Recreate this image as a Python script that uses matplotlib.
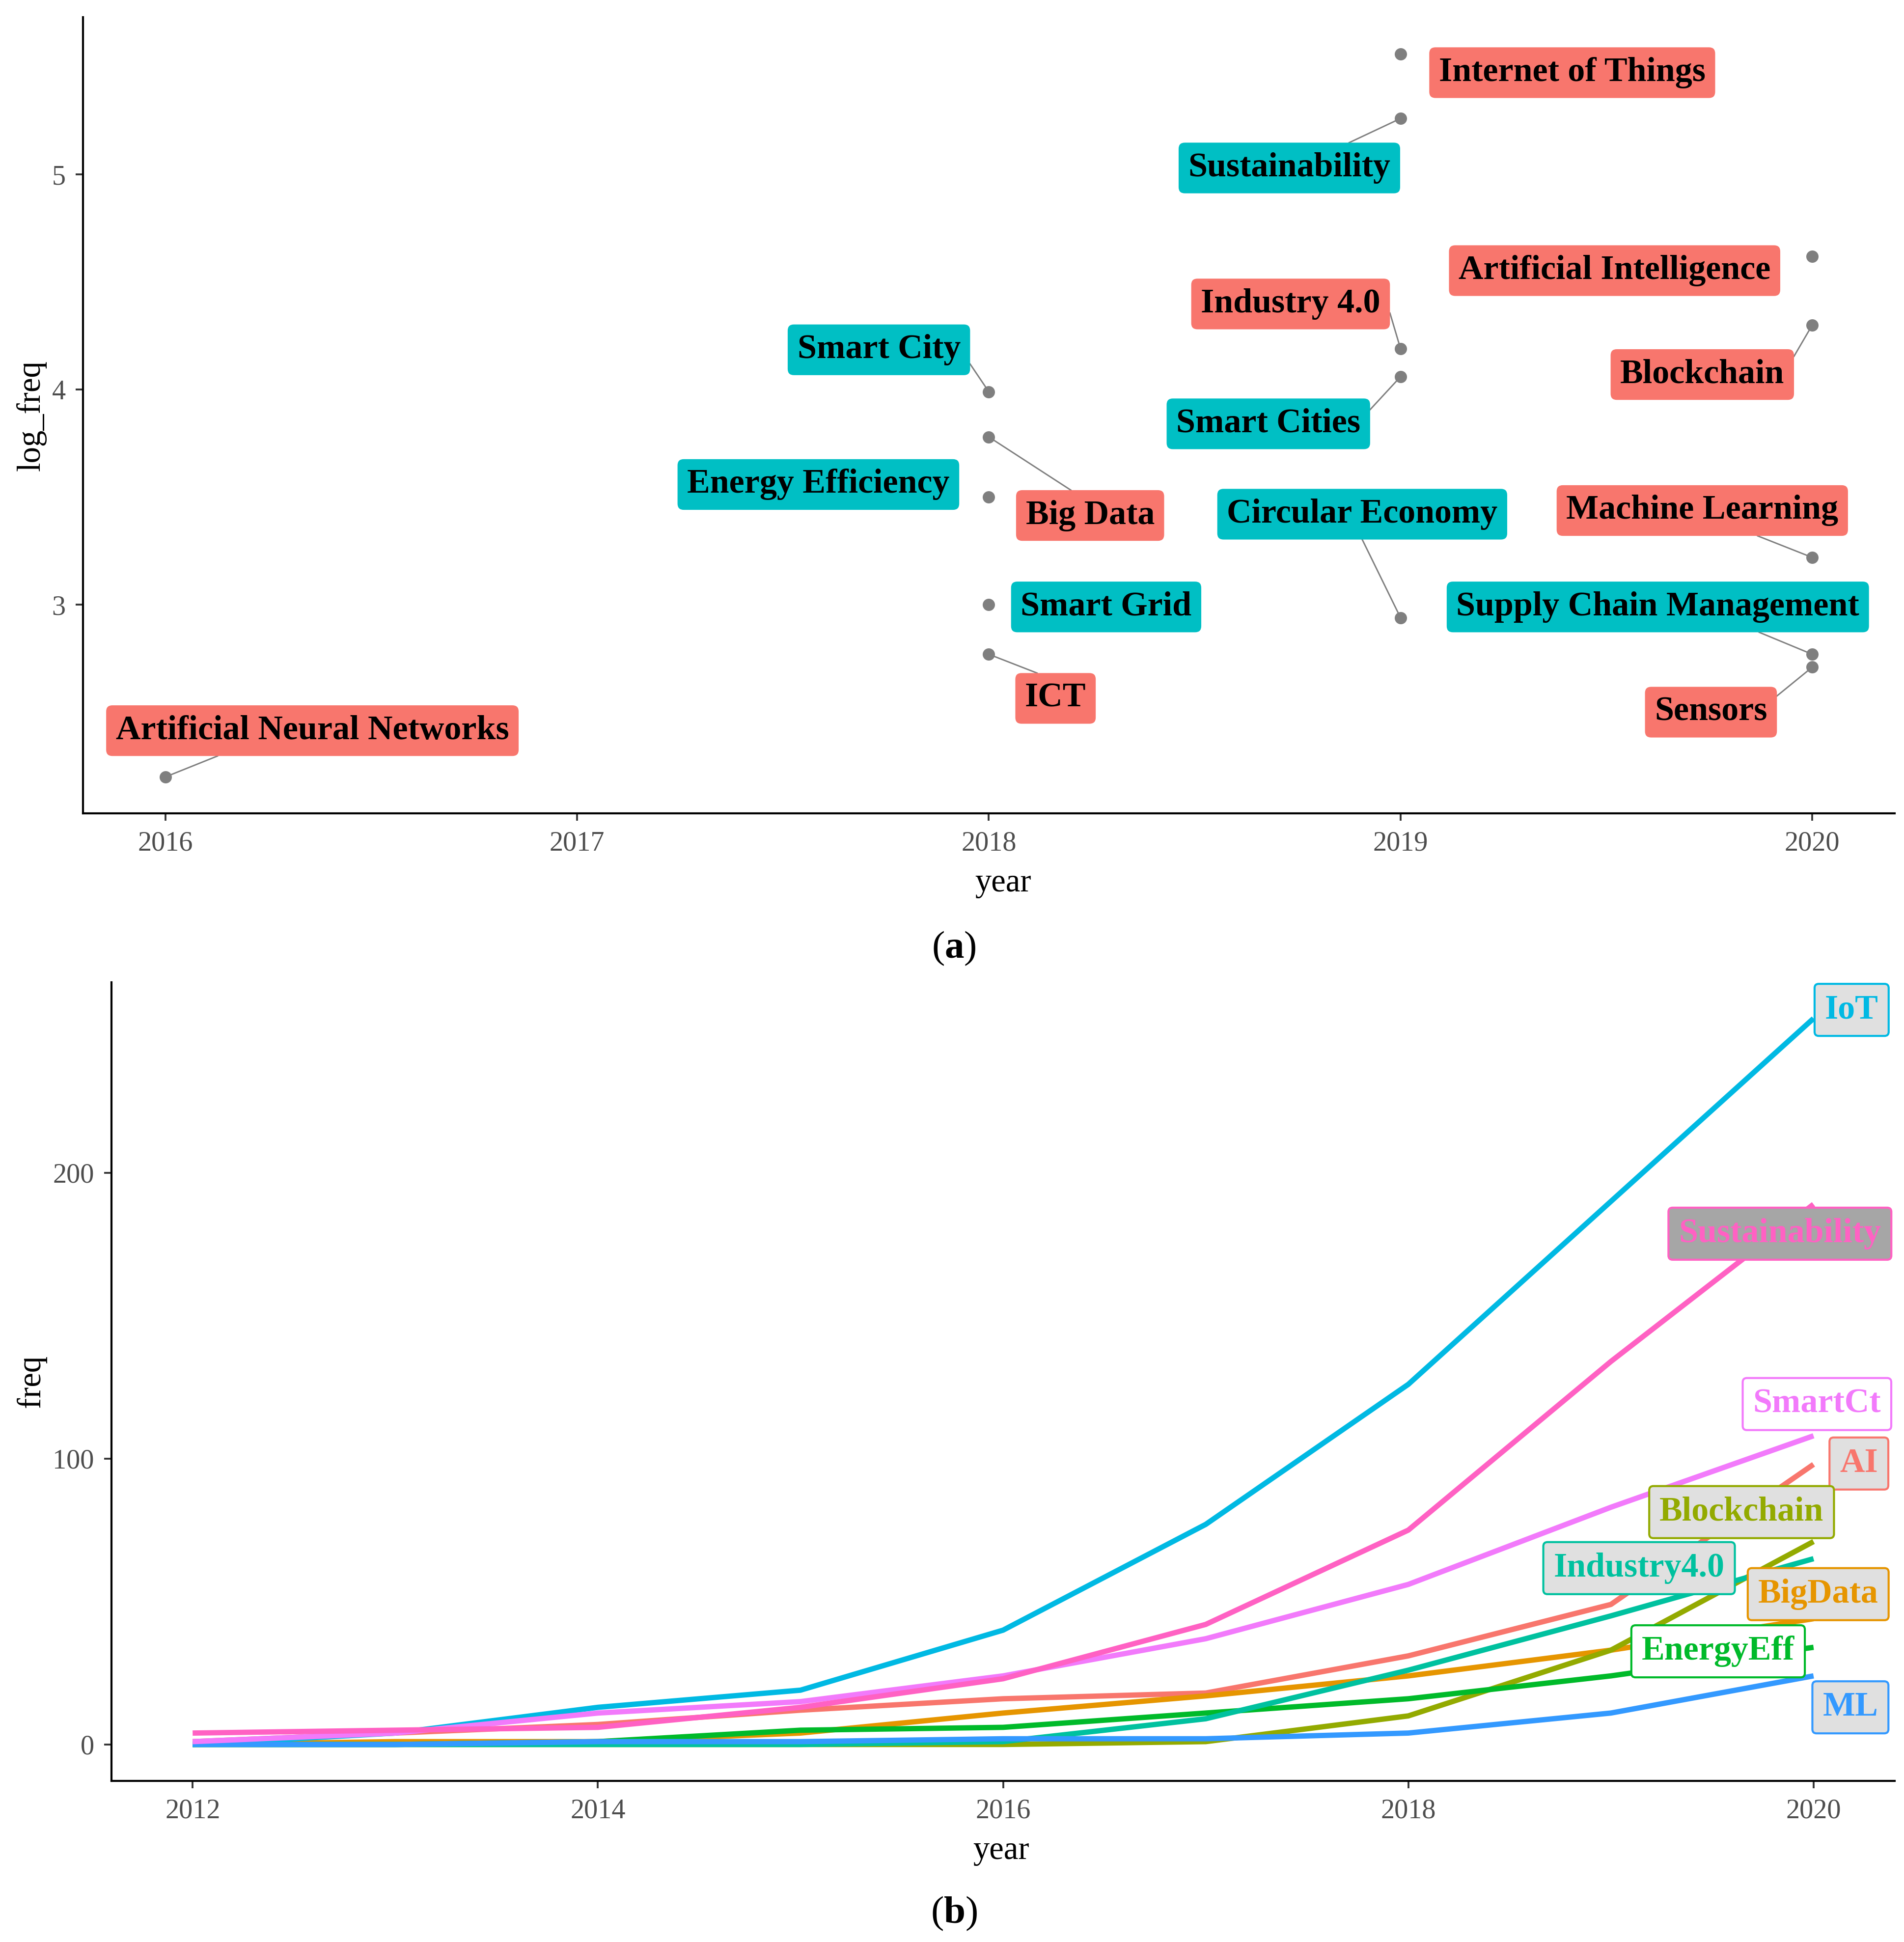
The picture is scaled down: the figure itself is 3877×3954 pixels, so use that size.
import numpy as np
import matplotlib
matplotlib.use('Agg')
import matplotlib.pyplot as plt

plt.rcParams['font.family'] = ['Liberation Serif', 'DejaVu Serif']
plt.rcParams['mathtext.fontset'] = 'custom'
plt.rcParams['mathtext.rm'] = 'Liberation Serif'
plt.rcParams['mathtext.bf'] = 'Liberation Serif:bold'

# ---- panel (a): first year of appearance vs log frequency ----
terms_a = ['Artificial Neural Networks', 'Smart City', 'Big Data', 'Energy Efficiency',
           'Smart Grid', 'ICT', 'Internet of Things', 'Sustainability', 'Industry 4.0',
           'Smart Cities', 'Circular Economy', 'Artificial Intelligence', 'Blockchain',
           'Machine Learning', 'Supply Chain Management', 'Sensors']
year_a = [2016, 2018, 2018, 2018, 2018, 2018, 2019, 2019, 2019, 2019, 2019,
          2020, 2020, 2020, 2020, 2020]
log_freq = [2.20, 3.99, 3.78, 3.50, 3.00, 2.77, 5.56, 5.26, 4.19, 4.06, 2.94,
            4.62, 4.30, 3.22, 2.77, 2.71]
group_a = ['A', 'B', 'A', 'B', 'B', 'A', 'A', 'B', 'A', 'B', 'B',
           'A', 'A', 'A', 'B', 'A']

# where the repelled labels ended up (data coords)
lab_x = [2016.357, 2017.733, 2018.246, 2017.586, 2018.285, 2018.162, 2019.417, 2018.73,
         2018.733, 2018.679, 2018.907, 2019.52, 2019.733, 2019.733, 2019.625, 2019.754]
lab_y = [2.425, 4.195, 3.425, 3.569, 3.0, 2.575, 5.483, 5.04,
         4.408, 3.851, 3.431, 4.563, 4.08, 3.448, 3.0, 2.511]
# where the connector meets the label box (fraction of box), None = no connector
seg_anchor = [(0.27, 0), (1, 0.22), (0.37, 1), None, None, (0.27, 1), None, (0.77, 1),
              (1, 0.32), (1, 0.78), (0.5, 0), None, (1, 0.86), (0.69, 0), (0.74, 0),
              (1, 0.82)]
fill_a = {'A': '#F8766D', 'B': '#00BFC4'}

# ---- panel (b): yearly frequency of the main keywords ----
years_b = [2012, 2013, 2014, 2015, 2016, 2017, 2018, 2019, 2020]
names_b = ['AI', 'BigData', 'Blockchain', 'EnergyEff', 'Industry4.0', 'IoT', 'ML',
           'SmartCt', 'Sustainability']
ai = [1, 4, 7, 12, 16, 18, 31, 49, 98]
bigdata = [0, 1, 1, 4, 11, 17, 24, 33, 44]
blockchain = [0, 0, 0, 0, 0, 1, 10, 33, 71]
energyeff = [0, 0, 1, 5, 6, 11, 16, 24, 34]
industry40 = [0, 0, 0, 0, 1, 9, 26, 45, 65]
iot = [0, 4, 13, 19, 40, 77, 126, 190, 254]
ml = [0, 0, 1, 1, 2, 2, 4, 11, 24]
smartct = [1, 4, 11, 15, 24, 37, 56, 83, 108]
sustainability = [4, 5, 6, 13, 23, 42, 75, 134, 189]
series_b = [ai, bigdata, blockchain, energyeff, industry40, iot, ml, smartct, sustainability]

colors_b = ['#F8766D', '#E69500', '#93AA00', '#00BA2A', '#00C19F', '#00B9E3',
            '#3399FF', '#F27AFB', '#FF61C3']
labfill_b = ['#E0E0E0', '#E0E0E0', '#E0E0E0', 'white', '#E0E0E0', '#E0E0E0',
             '#E0E0E0', 'white', '#A6A6A6']
labx_b = [2020.224, 2020.023, 2019.645, 2019.529, 2019.139, 2020.188, 2020.182,
          2020.017, 2019.834]
laby_b = [98.3, 52.6, 81.3, 32.6, 61.7, 257.0, 13.0, 119.1, 178.7]

W, H = 3878, 3954
fig = plt.figure(figsize=(W / 300, H / 300), dpi=300)


def style_axes(ax):
    for s in ['top', 'right']:
        ax.spines[s].set_visible(False)
    for s in ['left', 'bottom']:
        ax.spines[s].set_linewidth(1.0)
        ax.spines[s].set_color('black')
    ax.tick_params(length=3.5, width=0.9, color='#333333', labelcolor='#4D4D4D',
                   labelsize=13.5, pad=5)


# panel (a)
ax1 = fig.add_axes([67 / 1536, 1 - 656 / 1566, (1528 - 67) / 1536, (656 - 14) / 1566])
style_axes(ax1)
ax1.set_xlim(2015.8, 2020.2)
ax1.set_ylim(2.03, 5.73)
ax1.set_xticks([2016, 2017, 2018, 2019, 2020])
ax1.set_yticks([3, 4, 5])
ax1.set_xlabel('year', fontsize=16)
ax1.set_ylabel('log_freq', fontsize=16)
ax1.xaxis.set_label_coords(0.508, -0.069)
ax1.yaxis.set_label_coords(-0.0287, 0.5)
ax1.yaxis.label.set_va('center')

ax1.scatter(year_a, log_freq, s=36, color='#7F7F7F', zorder=3, linewidths=0)
texts_a = []
for i, term in enumerate(terms_a):
    t = ax1.text(lab_x[i], lab_y[i] - 0.01, term, ha='center', va='center', fontsize=16.8,
                 fontweight='bold', color='black', zorder=4,
                 bbox=dict(boxstyle='round,pad=0.28,rounding_size=0.18',
                           fc=fill_a[group_a[i]], ec='none'))
    texts_a.append(t)

# panel (b)
ax2 = fig.add_axes([90 / 1536, 1 - 1436 / 1566, (1528 - 90) / 1536, (1436 - 792) / 1566])
style_axes(ax2)
ax2.set_xlim(2011.6, 2020.4)
ax2.set_ylim(-12.7, 266.7)
ax2.set_xticks([2012, 2014, 2016, 2018, 2020])
ax2.set_yticks([0, 100, 200])
ax2.set_xlabel('year', fontsize=16)
ax2.set_ylabel('freq', fontsize=16)
ax2.xaxis.set_label_coords(0.499, -0.069)
ax2.yaxis.set_label_coords(-0.045, 0.5)
ax2.yaxis.label.set_va('center')

for k, name in enumerate(names_b):
    ax2.plot(years_b, series_b[k], color=colors_b[k], lw=2.6, solid_capstyle='butt',
             zorder=2 + k * 0.01)
for k, name in enumerate(names_b):
    ax2.text(labx_b[k], laby_b[k], name, ha='center', va='center', fontsize=16.8,
             fontweight='bold', color=colors_b[k], zorder=5,
             bbox=dict(boxstyle='round,pad=0.3,rounding_size=0.12',
                       fc=labfill_b[k], ec=colors_b[k], lw=1.0))

# panel captions
fig.text(0.501, 1 - 765 / 1566, r'($\mathbf{a}$)', ha='center', va='center', fontsize=19)
fig.text(0.501, 1 - 1543 / 1566, r'($\mathbf{b}$)', ha='center', va='center', fontsize=19)

# connector segments from each point to its anchor on the label box
fig.canvas.draw()
renderer = fig.canvas.get_renderer()
inv = ax1.transData.inverted()
for i, t in enumerate(texts_a):
    if seg_anchor[i] is None:
        continue
    bb = t.get_bbox_patch().get_window_extent(renderer)
    rx, ry = seg_anchor[i]
    ex, ey = inv.transform((bb.x0 + rx * bb.width, bb.y0 + ry * bb.height))
    ax1.plot([year_a[i], ex], [log_freq[i], ey], color='#7F7F7F', lw=0.7, zorder=2)

fig.savefig('out.png', dpi=300)
